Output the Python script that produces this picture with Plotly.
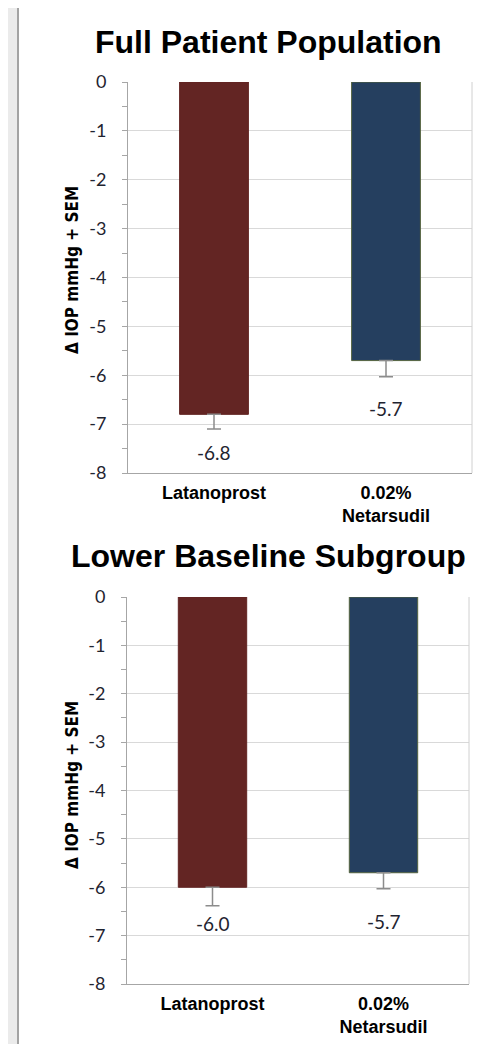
import plotly.graph_objects as go

# ---- data ----
categories = ["Latanoprost", "0.02%<br>Netarsudil"]
titles = ["Full Patient Population", "Lower Baseline Subgroup"]
full_values = [-6.8, -5.7]
full_sem = [0.3, 0.33]
lower_values = [-6.0, -5.7]
lower_sem = [0.38, 0.33]
y_ticks = [0, -1, -2, -3, -4, -5, -6, -7, -8]
y_title = "Δ IOP mmHg + SEM"

# ---- style ----
PAGE_W, PAGE_H = 502, 1044
OFF = 8  # default page body margin
W, H = PAGE_W - OFF, PAGE_H - OFF


def px(x):
    return (x - OFF) / W


def py(y):
    return 1 - (y - OFF) / H


bar_colors = ["#632523", "#253f5f"]
bar_lines = ["#632523", "#55643f"]
label_shift = [[23, 32], [18, 33]]  # px below the error bar end
px_domains = [
    dict(x=(128, 472), y=(82, 473)),
    dict(x=(127, 469), y=(597, 984)),
]
title_centers_px = [(268, 42), (268, 556)]
ytitle_px = [(72, 270), (72, 785)]

fig = go.Figure()
datasets = [(full_values, full_sem), (lower_values, lower_sem)]

annotations = []
for i, (vals, sems) in enumerate(datasets):
    n = i + 1
    xa = "x" if n == 1 else f"x{n}"
    ya = "y" if n == 1 else f"y{n}"
    fig.add_trace(go.Bar(
        x=categories, y=vals, width=0.4,
        marker=dict(color=bar_colors, line=dict(color=bar_lines, width=1)),
        error_y=dict(type="data", symmetric=False, array=[0] * len(vals),
                     arrayminus=sems, color="#8c8c8c", thickness=1.5, width=7),
        xaxis=xa, yaxis=ya, showlegend=False, hoverinfo="skip",
    ))
    for j, (v, s) in enumerate(zip(vals, sems)):
        annotations.append(dict(
            x=categories[j], y=v - s, xref=xa, yref=ya,
            text=f"{v:.1f}", showarrow=False, yanchor="middle",
            yshift=-label_shift[i][j],
            font=dict(family="Lato", size=19, color="#1f2430"),
        ))
    annotations.append(dict(
        x=px(title_centers_px[i][0]), y=py(title_centers_px[i][1]),
        xref="paper", yref="paper", text=f"<b>{titles[i]}</b>", showarrow=False,
        xanchor="center", yanchor="middle",
        font=dict(family="Liberation Sans", size=32, color="#000000"),
    ))
    annotations.append(dict(
        x=px(ytitle_px[i][0]), y=py(ytitle_px[i][1]),
        xref="paper", yref="paper", text=f"<b>{y_title}</b>", showarrow=False,
        textangle=-90, xanchor="center", yanchor="middle",
        font=dict(family="DejaVu Sans Condensed, Lato", size=17, color="#000000"),
    ))

layout = dict(
    width=W, height=H,
    margin=dict(l=0, r=0, t=0, b=0, autoexpand=False),
    paper_bgcolor="#ebebeb",
    plot_bgcolor="rgba(0,0,0,0)",
    bargap=0.6,
    annotations=annotations,
    shapes=[
        dict(type="rect", xref="paper", yref="paper",
             x0=px(18), x1=1.02, y0=-0.02, y1=py(6),
             fillcolor="#ffffff", line=dict(color="#a3a3a3", width=2), layer="below"),
    ],
)

for i in range(2):
    n = i + 1
    d = px_domains[i]
    xk = "xaxis" if n == 1 else f"xaxis{n}"
    yk = "yaxis" if n == 1 else f"yaxis{n}"
    ya = "y" if n == 1 else f"y{n}"
    xa = "x" if n == 1 else f"x{n}"
    layout[xk] = dict(
        domain=[px(d["x"][0]), px(d["x"][1])], anchor=ya, automargin=False,
        type="category", range=[-0.5, 1.5],
        showline=True, linecolor="#a6a6a6", linewidth=1,
        ticks="", showgrid=False,
        tickfont=dict(family="Liberation Sans", size=18, color="#000000", weight="bold"),
        ticklabelstandoff=3,
    )
    layout[yk] = dict(
        domain=[py(d["y"][1]), py(d["y"][0])], anchor=xa, automargin=False,
        range=[-8, 0], tickvals=y_ticks, ticktext=[str(t) for t in y_ticks],
        showline=True, linecolor="#a6a6a6", linewidth=1,
        ticks="outside", ticklen=5, tickcolor="#a6a6a6",
        minor=dict(dtick=0.5, ticks="outside", ticklen=5, tickcolor="#a6a6a6", showgrid=False),
        showgrid=True, gridcolor="#d9d9d9", gridwidth=1, zeroline=False,
        tickfont=dict(family="Lato", size=18, color="#1f2430"),
        ticklabelstandoff=12,
    )
    tk = f"xaxis{n + 2}"
    layout[tk] = dict(
        overlaying=xa, anchor=ya, side="top", automargin=False,
        range=[-0.5, 1.5], showline=True, linecolor="#b0b0b0", linewidth=1,
        ticks="inside", ticklen=5, tickcolor="#b0b0b0", tickvals=[0.5],
        showticklabels=False, showgrid=False, zeroline=False,
    )
    layout["shapes"].append(dict(
        type="line", xref=f"{xa} domain", yref=f"{ya} domain",
        x0=1, x1=1, y0=0, y1=1, line=dict(color="#d0d0d0", width=1),
    ))

fig.update_layout(**layout)
fig.write_html("out.html")
